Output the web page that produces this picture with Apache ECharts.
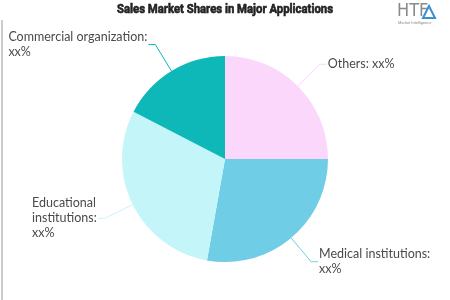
<!DOCTYPE html>
<html><head><meta charset="utf-8">
<script src="https://cdn.jsdelivr.net/npm/echarts@6/dist/echarts.min.js"></script>
<style>html,body{margin:0;padding:0;background:#fff}#c{width:450px;height:300px}</style>
</head><body><div id="c"></div>
<script>
var categories = ['Others', 'Medical institutions', 'Educational institutions', 'Commercial organization'];
var values = [25.0, 27.8, 29.8, 17.4];
var labelTexts = ['Others: xx%', 'Medical institutions:\nxx%', 'Educational\ninstitutions:\nxx%', 'Commercial organization:\nxx%'];
var colors = ['#FBD7FB', '#6FCDE5', '#C4F6F9', '#0FB8B8'];
var titleText = 'Sales Market Shares in Major Applications';

var titleFont = 'bold 13px Roboto, sans-serif';
var cv = document.createElement('canvas').getContext('2d');
cv.font = titleFont;
var tw = cv.measureText(titleText).width;
var sx = 216 / tw;

var chart = echarts.init(document.getElementById('c'));
chart.setOption({
  backgroundColor: '#fff',
  animation: false,
  graphic: [
    { type: 'text', x: 225, y: 10, scaleX: sx, style: { text: titleText, font: titleFont, fill: '#222', align: 'center', verticalAlign: 'middle', stroke: '#222', lineWidth: 0.6 } },
    { type: 'line', shape: { x1: 2, y1: 20, x2: 2, y2: 300 }, style: { stroke: '#999', lineWidth: 1 } },
    { type: 'text', left: 397, top: 2, style: { text: 'HTF', font: '18px "Liberation Sans Narrow", "DejaVu Sans Condensed", sans-serif', fill: '#8a8a8a' } },
    { type: 'polygon', shape: { points: [[423, 18], [429, 6], [435, 18]] }, style: { fill: 'none', stroke: '#3a8fd0', lineWidth: 2 } },
    { type: 'text', left: 398, top: 21, style: { text: 'Market Intelligence', font: '4px sans-serif', fill: '#8a8a8a' } }
  ],
  series: [{
    type: 'pie',
    center: ['50%', 159],
    radius: 103,
    startAngle: 90,
    clockwise: true,
    avoidLabelOverlap: false,
    data: categories.map(function (n, i) {
      return { name: n, value: values[i], itemStyle: { color: colors[i] } };
    }),
    label: {
      formatter: function (p) { return '{a|' + labelTexts[p.dataIndex].split('\n').join('}\n{a|') + '}'; },
      rich: { a: { align: 'left', fontFamily: 'Lato, sans-serif', fontSize: 12.5, color: '#4a4a4a', lineHeight: 15 } },
      fontFamily: 'Lato, sans-serif', fontSize: 12.5, color: '#4a4a4a',
      distanceToLabelLine: 1
    },
    labelLine: { length: 31, length2: 7, lineStyle: { width: 1 } },
    emphasis: { disabled: true }
  }]
});
</script></body></html>
